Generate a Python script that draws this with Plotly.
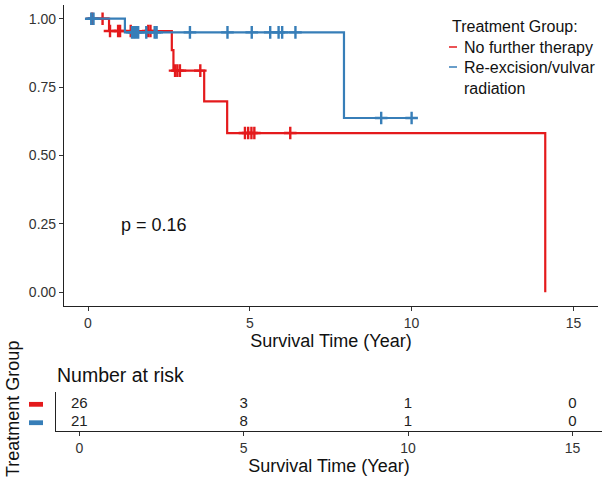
import plotly.graph_objects as go

W, H = 602, 488

# ---------------- data ----------------
group_names = ["No further therapy", "Re-excision/vulvar radiation"]
group_colors = ["#E41A1C", "#377EB8"]

red_times = [0.0, 0.65, 2.59, 2.64, 3.59, 4.30, 14.13]
red_surv = [1.0, 0.955, 0.885, 0.810, 0.698, 0.582, 0.0]
red_censor = [0.13, 0.45, 0.68, 0.93, 0.99, 1.32, 1.86, 1.93,
              2.69, 2.76, 2.84, 3.47, 4.85, 4.95, 5.05, 5.14, 6.25]

blue_times = [0.0, 1.14, 7.91, 10.0]
blue_surv = [1.0, 0.950, 0.637, 0.637]
blue_censor = [0.10, 0.17, 1.36, 1.42, 1.48, 1.55, 1.80, 2.06, 2.12,
               3.15, 4.31, 5.06, 5.63, 5.89, 6.00, 6.41, 9.06, 10.0]

risk_times = [0, 5, 10, 15]
risk_red = [26, 3, 1, 0]
risk_blue = [21, 8, 1, 0]

x_ticks = [0, 5, 10, 15]
y_ticks = [0.0, 0.25, 0.50, 0.75, 1.00]
y_ticklabels = ["0.00", "0.25", "0.50", "0.75", "1.00"]
p_text = "p = 0.16"


def surv_at(times, survs, t):
    val = survs[0]
    for ti, si in zip(times, survs):
        if ti <= t:
            val = si
    return val


FONT = "Liberation Sans, Arial, sans-serif"
TICK_COLOR = "#333333"

fig = go.Figure()

series = [
    (red_times, red_surv, red_censor, group_colors[0], group_names[0]),
    (blue_times, blue_surv, blue_censor, group_colors[1], group_names[1]),
]
for times, survs, cens, col, name in series:
    fig.add_trace(go.Scatter(
        x=times, y=survs, mode="lines", line=dict(color=col, width=2.2, shape="hv"),
        name=name, showlegend=False, xaxis="x", yaxis="y", hoverinfo="skip"))
    fig.add_trace(go.Scatter(
        x=cens, y=[surv_at(times, survs, c) for c in cens], mode="markers",
        marker=dict(symbol="cross-thin", size=9, line=dict(color=col, width=2.4)),
        showlegend=False, xaxis="x", yaxis="y", hoverinfo="skip"))

# risk table numbers
fig.add_trace(go.Scatter(
    x=risk_times, y=[2] * len(risk_times), mode="text",
    text=[str(v) for v in risk_red], textfont=dict(family=FONT, size=15, color="#222"),
    showlegend=False, xaxis="x2", yaxis="y2", hoverinfo="skip"))
fig.add_trace(go.Scatter(
    x=risk_times, y=[1] * len(risk_times), mode="text",
    text=[str(v) for v in risk_blue], textfont=dict(family=FONT, size=15, color="#222"),
    showlegend=False, xaxis="x2", yaxis="y2", hoverinfo="skip"))


def px_x(p):
    return p / W


def px_y(p):
    return 1 - p / H


axis_common = dict(showline=True, linecolor="#222", linewidth=1.2, mirror=False,
                   showgrid=False, zeroline=False, ticks="outside", ticklen=4,
                   tickcolor="#333", tickwidth=1.2,
                   tickfont=dict(family=FONT, size=14, color=TICK_COLOR))

fig.update_layout(
    width=W, height=H,
    margin=dict(l=0, r=0, t=0, b=0),
    paper_bgcolor="white", plot_bgcolor="white",
    font=dict(family=FONT, color="#000"),
    xaxis=dict(domain=[px_x(64), px_x(598)], range=[-0.742, 15.76],
               tickvals=x_ticks, anchor="y",
               title=dict(text="Survival Time (Year)", font=dict(family=FONT, size=18, color="#111"),
                          standoff=1),
               **axis_common),
    yaxis=dict(domain=[px_y(306), px_y(5)], range=[-0.05, 1.05],
               tickvals=y_ticks, ticktext=y_ticklabels, anchor="x",
               **axis_common),
    xaxis2=dict(domain=[px_x(56), 1.0], range=[-0.709, 15.90],
                tickvals=x_ticks, anchor="y2",
                title=dict(text="Survival Time (Year)", font=dict(family=FONT, size=18, color="#111"),
                           standoff=2),
                **axis_common),
    yaxis2=dict(domain=[px_y(431), px_y(392)], range=[0.55, 2.67], anchor="x2",
                showline=True, linecolor="#222", linewidth=1.2, showgrid=False,
                zeroline=False, ticks="", showticklabels=False),
)

annotations = [
    dict(text=p_text, x=2.04, y=0.246, xref="x", yref="y", showarrow=False,
         xanchor="center", yanchor="middle", font=dict(family=FONT, size=18, color="#111")),
    dict(text="Number at risk", x=px_x(55), y=px_y(375), xref="paper", yref="paper",
         showarrow=False, xanchor="left", yanchor="middle",
         font=dict(family=FONT, size=19.5, color="#111")),
    dict(text="Treatment Group", x=px_x(13), y=px_y(409), xref="paper", yref="paper",
         showarrow=False, xanchor="center", yanchor="middle", textangle=-90,
         font=dict(family=FONT, size=18, color="#111")),
    dict(text="Treatment Group:", x=px_x(450), y=px_y(27), xref="paper", yref="paper",
         showarrow=False, xanchor="left", yanchor="middle",
         font=dict(family=FONT, size=16, color="#111")),
    dict(text=group_names[0], x=px_x(462), y=px_y(47), xref="paper", yref="paper",
         showarrow=False, xanchor="left", yanchor="middle",
         font=dict(family=FONT, size=16, color="#111")),
    dict(text="Re-excision/vulvar<br>radiation", x=px_x(462), y=px_y(57), xref="paper", yref="paper",
         showarrow=False, xanchor="left", yanchor="top", align="left",
         font=dict(family=FONT, size=16, color="#111")),
]
fig.update_layout(annotations=annotations)

shapes = []
# legend keys
for ypx, col in [(47, group_colors[0]), (67, group_colors[1])]:
    shapes.append(dict(type="line", xref="paper", yref="paper",
                       x0=px_x(449), x1=px_x(457), y0=px_y(ypx), y1=px_y(ypx),
                       line=dict(color=col, width=1.5)))
# risk table colour keys
for row, col in [(2, group_colors[0]), (1, group_colors[1])]:
    shapes.append(dict(type="rect", xref="paper", yref="y2",
                       x0=px_x(29), x1=px_x(43), y0=row - 0.13, y1=row + 0.13,
                       fillcolor=col, line=dict(width=0)))
fig.update_layout(shapes=shapes)

fig.write_html("out.html",
               config={"displayModeBar": False},
               post_script="document.body.style.margin='0';document.body.style.padding='0';")
